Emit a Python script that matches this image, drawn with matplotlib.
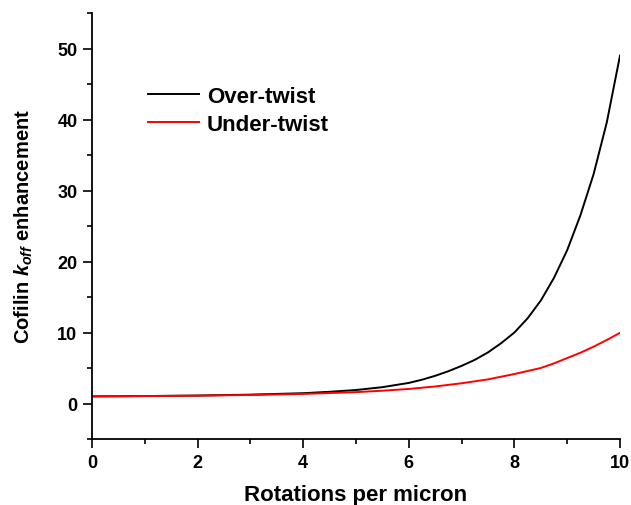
import matplotlib
matplotlib.use('Agg')
import matplotlib.pyplot as plt
from matplotlib.ticker import MultipleLocator

# values
over_x = [0, 1, 2, 3, 4, 4.5, 5, 5.5, 6, 6.25, 6.5, 6.75, 7, 7.25, 7.5, 7.75,
          8, 8.25, 8.5, 8.75, 9, 9.25, 9.5, 9.75, 10]
over_y = [1.0, 1.05, 1.12, 1.25, 1.45, 1.65, 1.9, 2.3, 2.9, 3.35, 3.9, 4.55,
          5.3, 6.15, 7.2, 8.5, 10.0, 12.0, 14.5, 17.7, 21.6, 26.5, 32.3, 39.6,
          49.0]
under_x = [0, 1, 2, 3, 4, 5, 5.5, 6, 6.5, 7, 7.5, 8, 8.5, 8.75, 9, 9.25, 9.5,
           9.75, 10]
under_y = [1.0, 1.05, 1.1, 1.2, 1.35, 1.6, 1.8, 2.05, 2.4, 2.85, 3.4, 4.15,
           5.0, 5.65, 6.4, 7.15, 8.0, 8.95, 9.95]

plt.rcParams['font.family'] = ['Liberation Sans', 'DejaVu Sans']
plt.rcParams['font.weight'] = 'bold'
plt.rcParams['mathtext.fontset'] = 'custom'
plt.rcParams['mathtext.rm'] = 'Liberation Sans:bold'
plt.rcParams['mathtext.it'] = 'Liberation Sans:bold:italic'
plt.rcParams['mathtext.bf'] = 'Liberation Sans:bold'

fig = plt.figure(figsize=(6.31, 5.06), dpi=100)
ax = fig.add_axes([92 / 631, 1 - 440 / 506, (620 - 92) / 631, (440 - 14) / 506])

ax.plot(over_x, over_y, color='black', lw=1.4, label='Over-twist')
ax.plot(under_x, under_y, color='red', lw=1.4, label='Under-twist')

ax.set_xlim(0, 10)
ax.set_ylim(-5, 55)
ax.xaxis.set_major_locator(MultipleLocator(2))
ax.xaxis.set_minor_locator(MultipleLocator(1))
ax.yaxis.set_major_locator(MultipleLocator(10))
ax.yaxis.set_minor_locator(MultipleLocator(5))
ax.tick_params(which='major', direction='out', length=6.5, width=1.2,
               labelsize=13, pad=4)
ax.tick_params(which='minor', direction='out', length=3.5, width=1.2)
for s in ['top', 'right']:
    ax.spines[s].set_visible(False)
for s in ['left', 'bottom']:
    ax.spines[s].set_linewidth(1.3)

ax.set_xlabel('Rotations per micron', fontsize=16, fontweight='bold',
              labelpad=10)
ax.set_ylabel(r'Cofilin $\mathit{k}_{\mathit{off}}$ enhancement', fontsize=14.5,
              fontweight='bold', labelpad=16)

ax.legend(loc='upper left', bbox_to_anchor=(0.068, 0.875), frameon=False,
          handlelength=2.3, handletextpad=0.35, labelspacing=0.3,
          prop={'weight': 'bold', 'size': 16})

fig.savefig('out.png', dpi=100)
